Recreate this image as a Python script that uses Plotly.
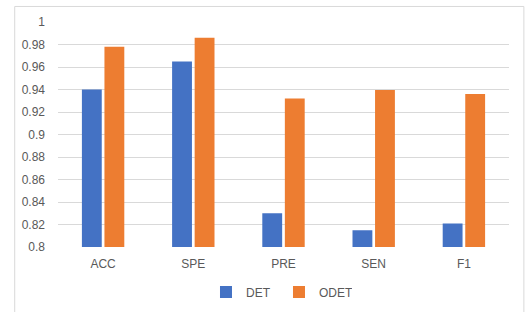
import plotly.graph_objects as go

categories = ["ACC", "SPE", "PRE", "SEN", "F1"]
det_values = [0.940, 0.965, 0.830, 0.815, 0.821]
odet_values = [0.978, 0.986, 0.932, 0.9395, 0.936]
y_ticks = [0.8, 0.82, 0.84, 0.86, 0.88, 0.9, 0.92, 0.94, 0.96, 0.98, 1]
y_tick_labels = ["0.8", "0.82", "0.84", "0.86", "0.88", "0.9", "0.92", "0.94", "0.96", "0.98", "1"]

font_family = "Liberation Sans, Arial, sans-serif"
text_color = "#595959"

fig = go.Figure()
fig.add_trace(go.Bar(name="DET", x=categories, y=det_values,
                     marker=dict(color="#4472C4", line=dict(width=0))))
fig.add_trace(go.Bar(name="ODET", x=categories, y=odet_values,
                     marker=dict(color="#ED7D31", line=dict(width=0))))

fig.update_layout(
    width=525, height=312,
    margin=dict(l=58, r=16, t=22, b=65, autoexpand=False),
    paper_bgcolor="white", plot_bgcolor="white",
    barmode="group", bargap=0.5, bargroupgap=0.12,
    font=dict(family=font_family, size=12, color=text_color),
    showlegend=True,
    legend=dict(orientation="h", x=0.49, xanchor="center", y=-0.2, yanchor="middle",
                font=dict(size=12, color=text_color), itemwidth=30,
                entrywidth=28, entrywidthmode="pixels",
                traceorder="normal", bgcolor="rgba(0,0,0,0)"),
    xaxis=dict(showgrid=False, showline=False, ticks="", automargin=False,
               ticklabelstandoff=8,
               tickfont=dict(size=12, color=text_color)),
    yaxis=dict(range=[0.8, 1.0], tickvals=y_ticks, ticktext=y_tick_labels,
               showgrid=True, gridcolor="#d9d9d9", gridwidth=1, automargin=False,
               zeroline=False, showline=False, ticks="", ticklabelstandoff=12,
               tickfont=dict(size=12, color=text_color)),
    shapes=[dict(type="rect", xref="paper", yref="paper",
                 x0=-0.096, x1=1.033, y0=-0.4, y1=1.069,
                 line=dict(color="#d9d9d9", width=1), fillcolor="rgba(0,0,0,0)",
                 layer="below")],
)

fig.write_html("out.html", config={"displayModeBar": False},
               post_script="document.body.style.margin='0';document.body.style.overflow='hidden';")
